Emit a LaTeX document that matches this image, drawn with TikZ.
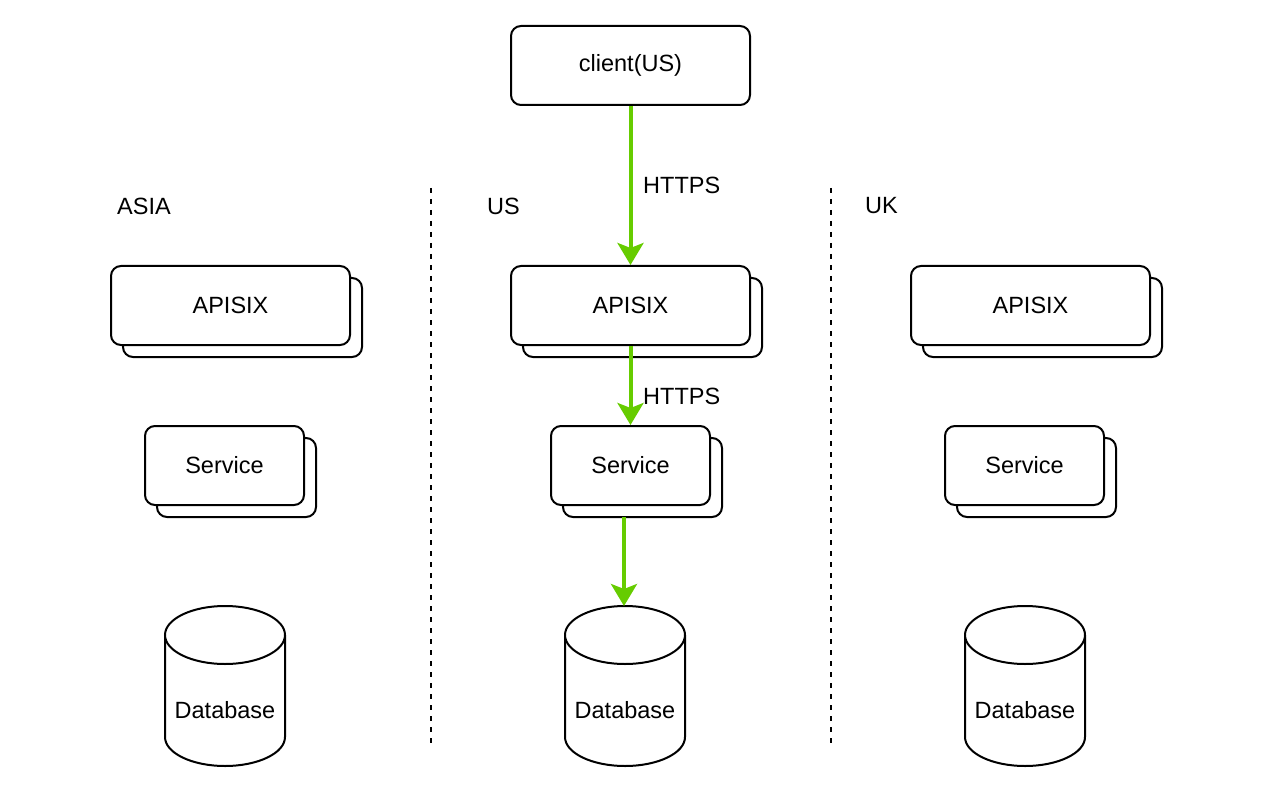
\documentclass[tikz,border=0pt]{standalone}
\usepackage{fontspec}
\setmainfont{Liberation Sans}
\usetikzlibrary{arrows.meta,shapes.geometric}
\definecolor{grn}{HTML}{66CC00}
\tikzset{
  box/.style={draw=black, line width=2pt, rounded corners=10pt, fill=white, font=\fontsize{23.5}{27}\selectfont, inner sep=0pt},
  lbl/.style={font=\fontsize{23.5}{27}\selectfont, inner sep=0pt},
  flow/.style={draw=grn, line width=4pt, -{Stealth[length=22pt,width=26pt,inset=5pt]}},
  sep/.style={draw=black, line width=2pt, dash pattern=on 5pt off 6pt},
  db/.style={draw=black, line width=2pt, fill=white}
}
\newcommand{\dbcyl}[3]{% name, center x, label
  \draw[db] (#2-60,635) -- (#2-60,737) arc[start angle=180,end angle=0,x radius=60,y radius=29] -- (#2+60,635);
  \draw[db] (#2,635) ellipse[x radius=60, y radius=29];
  \node[lbl] (#1) at (#2,710) {#3};
  \coordinate (#1top) at (#2-1,606);
}
\begin{document}
\begin{tikzpicture}[x=1pt,y=-1pt]
\useasboundingbox (0,0) rectangle (1266,794);
% client
\node[box, minimum width=239pt, minimum height=79pt] (client) at (630.5,65.5) {client(US)};
% separators
\coordinate (s1a) at (431,188); \coordinate (s1b) at (431,745);
\coordinate (s2a) at (831,188); \coordinate (s2b) at (831,745);
\draw[sep] (s1a) -- (s1b);
\draw[sep] (s2a) -- (s2b);
% region labels
\node[lbl, anchor=west] (asia) at (117,206) {ASIA};
\node[lbl, anchor=west] (us) at (487,206) {US};
\node[lbl, anchor=west] (uk) at (865,206) {UK};
% APISIX stacks
\foreach \cx/\nm in {230.5/aasia, 630.5/aus, 1030.5/auk} {
  \node[box, minimum width=239pt, minimum height=79pt] (\nm back) at (\cx+12,317.5) {};
  \node[box, minimum width=239pt, minimum height=79pt] (\nm) at (\cx,305.5) {APISIX};
}
% Service stacks
\foreach \cx/\nm in {224.5/sasia, 630.5/sus, 1024.5/suk} {
  \node[box, minimum width=159pt, minimum height=79pt] (\nm back) at (\cx+12,477.5) {};
  \node[box, minimum width=159pt, minimum height=79pt] (\nm) at (\cx,465.5) {Service};
}
% databases
\dbcyl{dasia}{225}{Database}
\dbcyl{dus}{625}{Database}
\dbcyl{duk}{1025}{Database}
% flows
\draw[flow] (client.south) -- (aus.north);
\node[lbl, anchor=west] (h1) at (643,185) {HTTPS};
\draw[flow] (aus.south) -- (sus.north);
\node[lbl, anchor=west] (h2) at (643,396) {HTTPS};
\coordinate (sfoot) at (624,517);
\draw[flow] (sfoot) -- (dustop);
\end{tikzpicture}
\end{document}
